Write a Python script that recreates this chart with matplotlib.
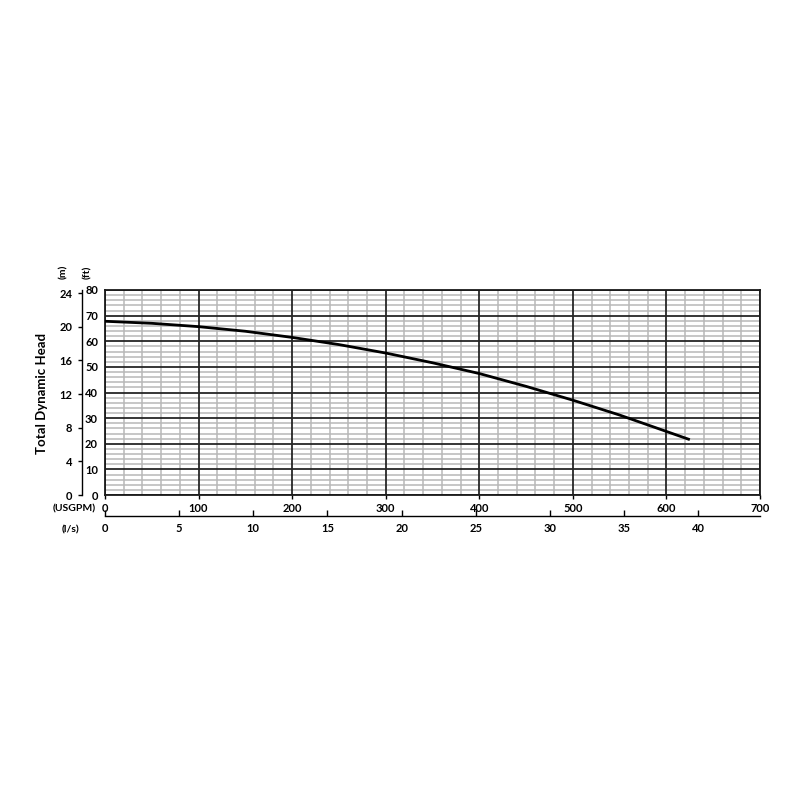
import matplotlib
matplotlib.use("Agg")
import matplotlib.pyplot as plt
import numpy as np
from matplotlib.ticker import MultipleLocator

# Data
flow_usgpm = [0, 50, 100, 150, 200, 250, 300, 350, 400, 450, 500, 550, 600, 625]
head_ft = [67.8, 67.0, 65.7, 63.9, 61.5, 58.7, 55.4, 51.6, 47.4, 42.4, 37.0, 31.2, 24.8, 21.6]

usgpm_ticks = [0, 100, 200, 300, 400, 500, 600, 700]
ls_ticks = [0, 5, 10, 15, 20, 25, 30, 35, 40]
ft_ticks = [0, 10, 20, 30, 40, 50, 60, 70, 80]
m_ticks = [0, 4, 8, 12, 16, 20, 24]

GPM_PER_LS = 15.8503
FT_PER_M = 3.28084

FONT = ["Lato", "DejaVu Sans"]
plt.rcParams["font.family"] = FONT
plt.rcParams["font.weight"] = "bold"

DPI = 100
PX = 72.0 / DPI  # points per pixel

fig = plt.figure(figsize=(8, 8), dpi=DPI)
W, H = 800, 800
l, r, t, b = 105, 760, 290, 495
ax = fig.add_axes([l / W, 1 - b / H, (r - l) / W, (b - t) / H])

xmax, ymax = 700, 80
ax.set_xlim(0, xmax)
ax.set_ylim(0, ymax)

# minor grid
ax.xaxis.set_minor_locator(MultipleLocator(20))
ax.yaxis.set_minor_locator(MultipleLocator(2))
ax.set_xticks(usgpm_ticks)
ax.set_yticks(ft_ticks)
ax.grid(which="minor", color="#b8b8b8", lw=1.1)
ax.set_axisbelow(True)
# major grid on top of the minor grid
for v in usgpm_ticks:
    ax.axvline(v, color="#262626", lw=1.3, zorder=2)
for v in ft_ticks:
    ax.axhline(v, color="#262626", lw=1.3, zorder=2)
for s in ax.spines.values():
    s.set_color("#1a1a1a")
    s.set_linewidth(1.3)

ax.plot(flow_usgpm, head_ft, color="black", lw=2.0, zorder=5, solid_capstyle="butt")

ax.tick_params(axis="both", which="minor", length=0)
ax.tick_params(axis="x", which="major", length=3, width=1.0, pad=3, labelsize=8, direction="out")
ax.tick_params(axis="y", which="major", length=0, pad=5, labelsize=8)
ax.set_xticklabels([str(v) for v in usgpm_ticks], fontweight="bold")
ax.set_yticklabels([str(v) for v in ft_ticks], fontweight="bold")

# meter axis
axm = ax.twinx()
axm.set_ylim(0, ymax / FT_PER_M)
axm.yaxis.set_ticks_position("left")
axm.yaxis.set_label_position("left")
axm.spines["left"].set_position(("outward", 23 * PX))
axm.spines["left"].set_visible(True)
axm.spines["left"].set_linewidth(1.0)
for s in ["right", "top", "bottom"]:
    axm.spines[s].set_visible(False)
axm.set_yticks(m_ticks)
axm.set_yticklabels([str(v) for v in m_ticks], fontweight="bold")
axm.tick_params(axis="y", length=3, width=1.0, pad=4, labelsize=8)

# l/s axis
axl = ax.twiny()
axl.set_xlim(0, xmax / GPM_PER_LS)
axl.xaxis.set_ticks_position("bottom")
axl.xaxis.set_label_position("bottom")
axl.spines["bottom"].set_position(("outward", 21 * PX))
axl.spines["bottom"].set_visible(True)
axl.spines["bottom"].set_linewidth(1.0)
for s in ["right", "top", "left"]:
    axl.spines[s].set_visible(False)
axl.set_xticks(ls_ticks)
axl.set_xticklabels([str(v) for v in ls_ticks], fontweight="bold")
axl.tick_params(axis="x", direction="in", length=4, width=1.0, pad=5, labelsize=8)

# labels
fig.text(42 / W, 1 - 394 / H, "Total Dynamic Head", rotation=90, ha="center", va="center",
         fontsize=9.5, fontweight="bold")
fig.text(64 / W, 1 - 272 / H, "(m)", rotation=90, ha="center", va="center", fontsize=7.5, fontweight="bold")
fig.text(88 / W, 1 - 272 / H, "(ft)", rotation=90, ha="center", va="center", fontsize=7.5, fontweight="bold")
fig.text(96 / W, 1 - 509 / H, "(USGPM)", ha="right", va="center", fontsize=7.5, fontweight="bold")
fig.text(70 / W, 1 - 530 / H, "(l/s)", ha="center", va="center", fontsize=7.5, fontweight="bold")

fig.savefig("out.png", dpi=DPI, facecolor="white")
